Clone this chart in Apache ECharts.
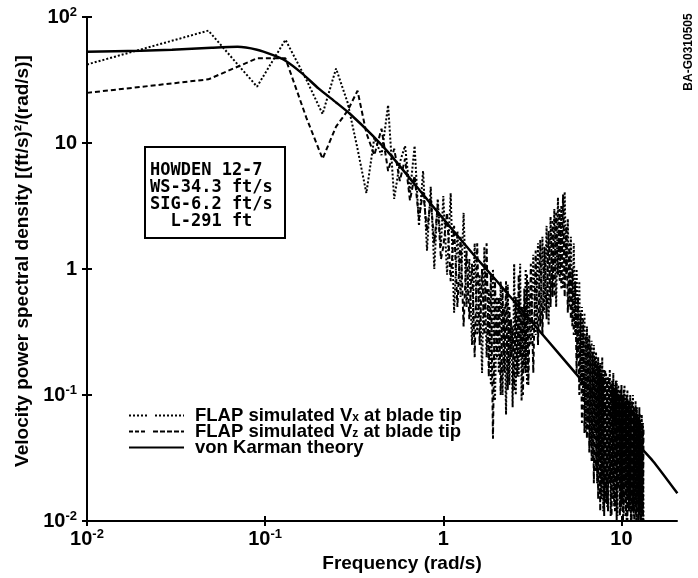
<!DOCTYPE html>
<html>
<head>
<meta charset="utf-8">
<script src="https://cdn.jsdelivr.net/npm/echarts/dist/echarts.min.js"></script>
</head>
<body style="margin:0;background:#fff">
<div id="main" style="width:698px;height:578px"></div>
<script>
// frequency grid of the simulated spectra (rad/s)
var freq = [
  0.01, 0.048, 0.09, 0.13, 0.17, 0.21, 0.25, 0.29, 0.33, 0.37,
  0.41, 0.45, 0.49, 0.53, 0.57, 0.61, 0.65, 0.69, 0.73, 0.77,
  0.81, 0.85, 0.89, 0.93, 0.97,
  1.00, 1.05, 1.10, 1.15, 1.20, 1.25, 1.30, 1.35, 1.40, 1.45,
  1.50, 1.55, 1.60, 1.65, 1.70, 1.75, 1.80, 1.85, 1.90, 1.95,
  2.00, 2.05, 2.10, 2.15, 2.20, 2.25, 2.30, 2.35, 2.40, 2.45,
  2.50, 2.55, 2.60, 2.65, 2.70, 2.75, 2.80, 2.85, 2.90, 2.95,
  3.00,
  3.1, 3.2, 3.3, 3.4, 3.5, 3.6, 3.7, 3.8, 3.9, 4.0,
  4.1, 4.2, 4.3, 4.4, 4.5, 4.6, 4.7, 4.8, 4.9, 5.0,
  5.1, 5.2, 5.3, 5.4, 5.5, 5.6, 5.7, 5.8, 5.9, 6.0,
  6.1, 6.2, 6.3, 6.4, 6.5, 6.6, 6.7, 6.8, 6.9, 7.0,
  7.1, 7.2, 7.3, 7.4, 7.5, 7.6, 7.7, 7.8, 7.9, 8.0,
  8.1, 8.2, 8.3, 8.4, 8.5, 8.6, 8.7, 8.8, 8.9, 9.0,
  9.1, 9.2, 9.3, 9.4, 9.5, 9.6, 9.7, 9.8, 9.9, 10.0,
  10.1, 10.2, 10.3, 10.4, 10.5, 10.6, 10.7, 10.8, 10.9, 11.0,
  11.1, 11.2, 11.3, 11.4, 11.5, 11.6, 11.7, 11.8, 11.9, 12.0,
  12.1, 12.2, 12.3, 12.4, 12.5, 12.6, 12.7, 12.8, 12.9, 13.0,
  13.1, 13.2, 13.3
];

// FLAP simulated Vx at blade tip
var flapVx = [
  42, 78, 28, 66, 32, 17, 39, 21, 9, 4,
  11, 8, 20, 3.6, 7, 9.5, 4, 9.5, 2.2, 6,
  1.4, 4.5, 1.0, 3.6, 1.5,
  3.8, 0.9, 4.0, 0.45, 2.0, 0.6, 2.8, 0.5, 1.2, 0.25,
  1.6, 0.3, 0.9, 0.15, 1.5, 0.2, 0.7, 0.12, 1.0, 0.09,
  0.6, 0.15, 0.8, 0.1, 0.5, 0.07, 0.75, 0.12, 0.4, 0.08,
  1.1, 0.1, 0.6, 0.14, 1.1, 0.09, 0.5, 0.16, 1.0, 0.12,
  0.8,
  0.25, 1.3, 0.3, 1.6, 0.35, 1.8, 0.45, 2.2, 0.36, 2.6,
  0.6, 3.0, 0.5, 3.7, 0.8, 3.2, 0.7, 4.1, 0.9, 2.5,
  0.5, 1.8, 0.35, 1.6, 0.3, 1.0, 0.2, 0.8, 0.12, 0.5,
  0.09, 0.45, 0.05, 0.35, 0.06, 0.3, 0.04, 0.27, 0.03, 0.25,
  0.05, 0.22, 0.02, 0.2, 0.03, 0.18, 0.015, 0.2, 0.012, 0.16,
  0.02, 0.15, 0.013, 0.14, 0.03, 0.16, 0.011, 0.13, 0.02, 0.15,
  0.013, 0.12, 0.025, 0.13, 0.011, 0.12, 0.02, 0.11, 0.012, 0.12,
  0.015, 0.1, 0.011, 0.12, 0.02, 0.1, 0.01, 0.11, 0.015, 0.09,
  0.012, 0.1, 0.01, 0.09, 0.02, 0.1, 0.011, 0.08, 0.013, 0.09,
  0.01, 0.08, 0.015, 0.07, 0.01, 0.08, 0.012, 0.06, 0.01, 0.07,
  0.011, 0.06, 0.01
];

// FLAP simulated Vz at blade tip
var flapVz = [
  25, 32, 47, 47, 16, 7.5, 13.5, 18, 26, 12,
  8, 13, 6, 9, 5, 7.5, 3.5, 5.5, 2.5, 4.2,
  2, 3.6, 1.6, 3.2, 1.2,
  1.5, 2.8, 0.8, 2.2, 0.5, 1.8, 0.35, 1.4, 0.4, 1.1,
  0.2, 1.6, 0.25, 1.0, 0.3, 1.6, 0.14, 0.9, 0.045, 0.8,
  0.2, 0.6, 0.1, 0.7, 0.15, 0.8, 0.11, 0.5, 0.2, 0.35,
  0.11, 0.6, 0.14, 0.9, 0.2, 0.5, 0.1, 0.7, 0.15, 0.9,
  0.12,
  1.1, 0.15, 1.4, 0.25, 1.7, 0.3, 1.5, 0.4, 2.0, 0.5,
  2.4, 0.6, 2.8, 0.9, 3.0, 0.7, 3.9, 0.6, 2.2, 0.45,
  1.6, 0.4, 1.0, 0.3, 0.8, 0.15, 0.6, 0.1, 0.45, 0.06,
  0.4, 0.05, 0.3, 0.045, 0.28, 0.035, 0.25, 0.03, 0.22, 0.02,
  0.2, 0.025, 0.18, 0.015, 0.17, 0.012, 0.15, 0.02, 0.14, 0.011,
  0.16, 0.014, 0.13, 0.012, 0.14, 0.02, 0.12, 0.011, 0.13, 0.015,
  0.11, 0.012, 0.13, 0.01, 0.11, 0.018, 0.1, 0.011, 0.11, 0.013,
  0.1, 0.01, 0.11, 0.014, 0.09, 0.011, 0.1, 0.01, 0.09, 0.012,
  0.09, 0.015, 0.08, 0.01, 0.09, 0.012, 0.08, 0.01, 0.07, 0.011,
  0.08, 0.012, 0.07, 0.01, 0.065, 0.011, 0.07, 0.01, 0.06, 0.012,
  0.06, 0.01, 0.055
];

// von Karman theory curve
var theoryFreq = [0.01, 0.02, 0.03, 0.05, 0.07, 0.09, 0.11, 0.13, 0.16, 0.2,
  0.25, 0.3, 0.4, 0.5, 0.7, 1, 1.5, 2, 3, 5, 7, 10, 15, 20.6];
var theoryPsd = [53, 54, 55, 57, 58, 55, 50, 45, 36, 27,
  21, 17, 11.5, 8.2, 4.6, 2.5, 1.27, 0.8, 0.41, 0.176, 0.101, 0.056, 0.03, 0.0166];

var xTicks = [0.01, 0.1, 1, 10];
var yTicks = [0.01, 0.1, 1, 10, 100];

var infoLines = ['HOWDEN 12-7', 'WS-34.3 ft/s', 'SIG-6.2 ft/s', '  L-291 ft'];

function pairs(xs, ys) {
  var out = [];
  for (var i = 0; i < xs.length; i++) out.push([xs[i], ys[i]]);
  return out;
}

function powLabel(v) {
  var e = Math.round(Math.log10(v));
  if (e === 0) return '{b|1}';
  if (e === 1) return '{b|10}';
  return '{b|10}{s|' + e + '}';
}

var font = 'Liberation Sans';
var labelRich = {
  b: {fontSize: 20, fontWeight: 'bold', fontFamily: font, color: '#000', lineHeight: 22},
  s: {fontSize: 13, fontWeight: 'bold', fontFamily: font, color: '#000', lineHeight: 13, verticalAlign: 'top'}
};

var legendRich = {
  n: {fontSize: 18.5, fontWeight: 'bold', fontFamily: font, color: '#000', lineHeight: 17},
  p: {fontSize: 18.5, fontWeight: 'bold', fontFamily: font, color: '#000', lineHeight: 17, padding: [0, 0, 0, 6]},
  sub: {fontSize: 12, fontWeight: 'bold', fontFamily: font, color: '#000', lineHeight: 12, verticalAlign: 'bottom'}
};

var chart = echarts.init(document.getElementById('main'));

var xBase = {type: 'log', min: 0.01, max: 20.5, logBase: 10, splitLine: {show: false}};
var yBase = {type: 'log', min: 0.01, max: 100, logBase: 10, splitLine: {show: false}};

chart.setOption({
  animation: false,
  backgroundColor: '#fff',
  grid: {left: 87, right: 21, top: 17, bottom: 55},
  xAxis: [
    Object.assign({}, xBase, {
      position: 'bottom',
      axisLine: {lineStyle: {color: '#000', width: 2}},
      axisTick: {length: 5, customValues: xTicks, lineStyle: {color: '#000', width: 2}},
      axisLabel: {formatter: powLabel, customValues: xTicks, margin: 7, rich: labelRich},
      name: 'Frequency (rad/s)',
      nameLocation: 'middle',
      nameGap: 32,
      nameTextStyle: {fontSize: 19, fontWeight: 'bold', fontFamily: font, color: '#000', padding: [0, 0, 0, 40]}
    }),
    Object.assign({}, xBase, {
      position: 'bottom',
      axisLine: {show: false},
      axisTick: {inside: true, length: 5, customValues: xTicks, lineStyle: {color: '#000', width: 2}},
      axisLabel: {show: false}
    })
  ],
  yAxis: [
    Object.assign({}, yBase, {
      position: 'left',
      axisLine: {lineStyle: {color: '#000', width: 2}},
      axisTick: {length: 5, customValues: yTicks, lineStyle: {color: '#000', width: 2}},
      axisLabel: {formatter: powLabel, customValues: yTicks, margin: 10, rich: labelRich},
      name: 'Velocity power spectral density [(ft/s)\u00b2/(rad/s)]',
      nameLocation: 'middle',
      nameGap: 52,
      nameTextStyle: {fontSize: 19, fontWeight: 'bold', fontFamily: font, color: '#000', padding: [0, 0, 0, 16]}
    }),
    Object.assign({}, yBase, {
      position: 'left',
      axisLine: {show: false},
      axisTick: {inside: true, length: 5, customValues: yTicks, lineStyle: {color: '#000', width: 2}},
      axisLabel: {show: false}
    })
  ],
  legend: {
    orient: 'vertical',
    left: 123,
    top: 401,
    itemWidth: 55,
    itemHeight: 12,
    itemGap: -3,
    itemStyle: {opacity: 0},
    data: [
      {name: 'FLAP simulated Vx at blade tip',
        lineStyle: {type: [2, 2, 2, 2, 2, 2, 2, 2, 2, 8, 2, 2, 2, 2, 2, 2, 2, 2, 2, 2, 2, 2, 2, 2, 2, 30]}},
      {name: 'FLAP simulated Vz at blade tip',
        lineStyle: {type: [4, 2, 4, 2, 4, 8, 5, 2, 5, 2, 5, 2, 5, 2, 4, 30]}},
      {name: 'von Karman theory'}
    ],
    textStyle: {rich: legendRich},
    formatter: function (name) {
      if (name === 'von Karman theory') return '{p|von Karman theory}';
      var sub = name.indexOf('Vx') >= 0 ? 'x' : 'z';
      return '{p|FLAP simulated V}{sub|' + sub + '}{n| at blade tip}';
    }
  },
  graphic: [
    {
      type: 'rect',
      shape: {x: 145, y: 147, width: 140, height: 91},
      style: {fill: 'none', stroke: '#000', lineWidth: 2}
    },
    {
      type: 'text',
      x: 150,
      y: 162,
      style: {
        text: infoLines.join('\n'),
        font: 'bold 17px "DejaVu Sans Mono"',
        lineHeight: 17,
        fill: '#000'
      }
    },
    {
      type: 'text',
      x: 689,
      y: 52,
      rotation: Math.PI / 2,
      style: {
        text: 'BA-G0310505',
        font: 'bold 12px "Liberation Sans"',
        fill: '#000',
        align: 'center',
        verticalAlign: 'middle'
      }
    }
  ],
  series: [
    {
      name: 'FLAP simulated Vx at blade tip',
      type: 'line',
      symbol: 'none',
      data: pairs(freq, flapVx),
      lineStyle: {color: '#000', width: 2, type: [2, 2]},
      itemStyle: {color: '#000'}
    },
    {
      name: 'FLAP simulated Vz at blade tip',
      type: 'line',
      symbol: 'none',
      data: pairs(freq, flapVz),
      lineStyle: {color: '#000', width: 2, type: [5, 3]},
      itemStyle: {color: '#000'}
    },
    {
      name: 'von Karman theory',
      type: 'line',
      symbol: 'none',
      smooth: 0.2,
      data: pairs(theoryFreq, theoryPsd),
      lineStyle: {color: '#000', width: 2.5},
      itemStyle: {color: '#000'}
    }
  ]
});
</script>
</body>
</html>
